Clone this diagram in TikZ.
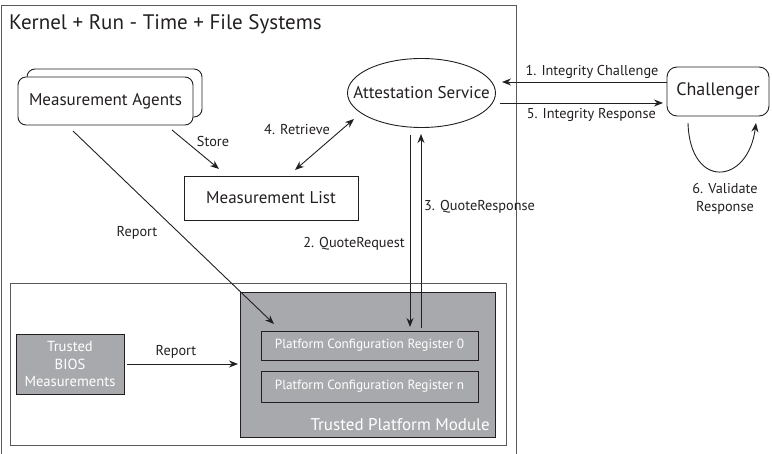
\documentclass[tikz,border=0pt]{standalone}
\usepackage{fontspec}
\setmainfont{PT Sans}
\usetikzlibrary{arrows.meta,shapes.geometric}
\definecolor{ink}{HTML}{231F20}
\definecolor{tpmgray}{HTML}{A7A9AC}
\definecolor{framegray}{HTML}{5A5A5A}
\tikzset{
  conn/.style={draw=ink, line width=0.9pt, -{Stealth[length=9pt,width=7pt]}},
  lbl/.style={font=\fontsize{14.3}{17}\selectfont, text=ink, inner sep=0pt},
  wbox/.style={draw=ink, line width=0.9pt, fill=white, inner sep=0pt},
  gbox/.style={draw=ink, line width=0.9pt, fill=tpmgray, inner sep=0pt, text=white},
}
\begin{document}
\begin{tikzpicture}[x=1pt,y=-1pt]
\useasboundingbox (0,0) rectangle (772,454);
% outer frame
\node[draw=framegray, line width=1.2pt, minimum width=515pt, minimum height=450pt, anchor=north west, inner sep=0pt] (kern) at (0.6,5) {};
\node[anchor=base west, font=\fontsize{21}{24}\selectfont, text=ink, inner sep=0pt] (title) at (9,30) {Kernel + Run - Time + File Systems};
% inner frame
\node[draw=framegray, line width=1.2pt, minimum width=496pt, minimum height=162pt, anchor=north west, inner sep=0pt] (inner) at (10,283) {};
% TPM
\node[gbox, minimum width=255pt, minimum height=145pt, anchor=north west] (tpm) at (240,292) {};
\node[anchor=base east, font=\fontsize{17}{20}\selectfont, text=white, inner sep=0pt] (tpmlbl) at (490,431) {Trusted Platform Module};
\node[gbox, minimum width=217pt, minimum height=29pt, font=\fontsize{13.3}{16}\selectfont] (pcr0) at (369.5,345.5) {Platform Configuration Register 0};
\node[gbox, minimum width=217pt, minimum height=31pt, font=\fontsize{13.3}{16}\selectfont] (pcrn) at (369.5,386.5) {Platform Configuration Register n};
% BIOS
\node[gbox, minimum width=108pt, minimum height=60pt, align=center, font=\fontsize{14.6}{17.5}\selectfont] (bios) at (70,364) {Trusted\\BIOS\\Measurements};
% Measurement agents
\node[wbox, rounded corners=8pt, minimum width=175pt, minimum height=48pt] (ma2) at (114.5,93) {};
\node[wbox, rounded corners=8pt, minimum width=175pt, minimum height=48pt, font=\fontsize{17}{20}\selectfont, text=ink] (ma) at (105.5,101) {Measurement Agents};
% Measurement list
\node[wbox, minimum width=174pt, minimum height=44pt, font=\fontsize{17}{20}\selectfont, text=ink] (ml) at (271,198) {Measurement List};
% Attestation service
\node[ellipse, draw=ink, line width=0.9pt, minimum width=148pt, minimum height=69pt, inner sep=0pt] (as) at (421.5,93) {};
\node[font=\fontsize{17}{20}\selectfont, text=ink, inner sep=0pt] (astxt) at (as.center) {Attestation Service};
% Challenger
\node[wbox, rounded corners=10pt, minimum width=102pt, minimum height=49pt, font=\fontsize{18}{21}\selectfont, text=ink] (ch) at (718,91.5) {Challenger};
% coordinates
\coordinate (c1a) at (667,82);
\coordinate (c1b) at (502,82);
\coordinate (c5a) at (500,103);
\coordinate (c5b) at (663,103);
\coordinate (stA) at (172,130);
\coordinate (stB) at (219,169);
\coordinate (reA) at (295,170);
\coordinate (reB) at (354,119);
\coordinate (rpA) at (73,131);
\coordinate (rpB) at (274,324);
\coordinate (q2a) at (410,135);
\coordinate (q2b) at (410,327);
\coordinate (q3a) at (421,328);
\coordinate (q3b) at (421,134);
\coordinate (brA) at (127,364);
\coordinate (brB) at (238,364);
\coordinate (lpA) at (688,123);
\coordinate (lpB) at (756,123);
% connectors
\draw[conn] (c1a) -- (c1b);
\node[lbl] (l1) at (592,72) {1. Integrity Challenge};
\draw[conn] (c5a) -- (c5b) node[lbl, pos=0.56, below=5pt] (l5) {5. Integrity Response};
\draw[conn] (stA) -- (stB);
\node[lbl] (lst) at (213,141) {Store};
\draw[conn, {Stealth[length=9pt,width=7pt]}-{Stealth[length=9pt,width=7pt]}] (reA) -- (reB);
\node[lbl] (lre) at (297,130) {4. Retrieve};
\draw[conn] (rpA) -- (rpB);
\node[lbl] (lrp) at (137,233) {Report};
\draw[conn] (q2a) -- (q2b);
\node[lbl, anchor=east] (lq2) at (405,244) {2. QuoteRequest};
\draw[conn] (q3a) -- (q3b);
\node[lbl, anchor=west] (lq3) at (424,207) {3. QuoteResponse};
\draw[conn] (brA) -- (brB);
\node[lbl] (lbr) at (176,352) {Report};
\draw[conn] (lpA) .. controls (690,190) and (748,185) .. (lpB);
\node[lbl, align=center, font=\fontsize{14.3}{18}\selectfont] (l6) at (725,199) {6. Validate\\Response};
\end{tikzpicture}
\end{document}
